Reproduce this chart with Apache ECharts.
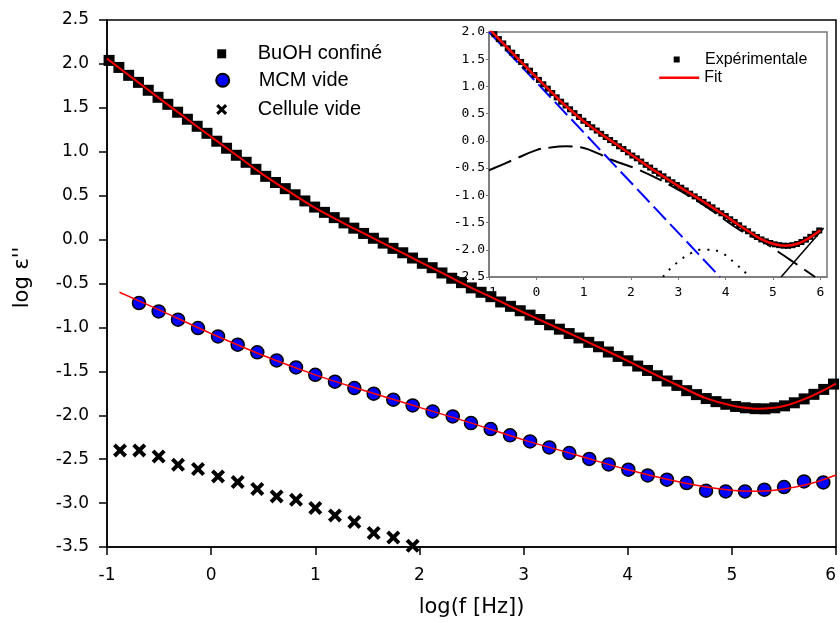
<!DOCTYPE html>
<html>
<head>
<meta charset="utf-8">
<script src="https://cdn.jsdelivr.net/npm/echarts@6/dist/echarts.min.js"></script>
<style>
html,body{margin:0;padding:0;background:#fff;}
#chart{width:840px;height:623px;}
</style>
</head>
<body>
<div id="chart"></div>
<script>
// ---------- DATA ----------
// BuOH confiné (log f, log eps'')
const buohX = [-0.98,-0.886,-0.792,-0.698,-0.604,-0.51,-0.416,-0.322,-0.228,-0.134,-0.04,0.054,0.148,0.242,0.336,0.43,0.524,0.618,0.712,0.806,0.9,0.994,1.088,1.182,1.276,1.37,1.464,1.558,1.652,1.746,1.84,1.934,2.028,2.122,2.216,2.31,2.404,2.498,2.592,2.686,2.78,2.874,2.968,3.062,3.156,3.25,3.344,3.438,3.532,3.626,3.72,3.814,3.908,4.002,4.096,4.19,4.284,4.378,4.472,4.566,4.66,4.754,4.848,4.942,5.036,5.13,5.224,5.318,5.412,5.506,5.6,5.694,5.788,5.882,5.976];
const buohY = [2.04,1.96,1.87,1.79,1.70,1.62,1.54,1.45,1.37,1.29,1.21,1.12,1.04,0.96,0.88,0.80,0.72,0.65,0.58,0.51,0.44,0.37,0.31,0.25,0.19,0.13,0.07,0.015,-0.04,-0.10,-0.15,-0.21,-0.27,-0.32,-0.38,-0.44,-0.49,-0.55,-0.60,-0.65,-0.71,-0.76,-0.81,-0.86,-0.91,-0.97,-1.02,-1.07,-1.12,-1.17,-1.22,-1.28,-1.33,-1.38,-1.44,-1.49,-1.55,-1.61,-1.66,-1.72,-1.765,-1.81,-1.845,-1.875,-1.90,-1.915,-1.925,-1.927,-1.915,-1.893,-1.858,-1.814,-1.762,-1.706,-1.645];
// Fit of BuOH
const fitBuohX = [-1,-0.75,-0.5,-0.25,0,0.25,0.5,0.75,1,1.25,1.5,1.75,2,2.25,2.5,2.75,3,3.25,3.5,3.75,4,4.25,4.5,4.75,5,5.25,5.5,5.75,6];
const fitBuohY = [2.06,1.835,1.61,1.39,1.17,0.955,0.74,0.545,0.36,0.20,0.05,-0.10,-0.25,-0.40,-0.55,-0.69,-0.83,-0.965,-1.10,-1.24,-1.38,-1.53,-1.67,-1.805,-1.89,-1.926,-1.895,-1.79,-1.64];
// MCM vide
const mcmX = [-0.693,-0.504,-0.318,-0.126,0.066,0.255,0.443,0.629,0.815,1.0,1.189,1.375,1.561,1.749,1.935,2.127,2.32,2.495,2.684,2.87,3.062,3.247,3.439,3.631,3.817,4.006,4.192,4.377,4.566,4.752,4.941,5.126,5.312,5.501,5.693,5.878];
const mcmY = [-0.722,-0.818,-0.912,-1.007,-1.102,-1.197,-1.284,-1.376,-1.455,-1.539,-1.618,-1.690,-1.755,-1.823,-1.888,-1.956,-2.013,-2.089,-2.157,-2.229,-2.298,-2.366,-2.430,-2.498,-2.560,-2.620,-2.685,-2.734,-2.772,-2.859,-2.867,-2.867,-2.848,-2.817,-2.753,-2.765];
const fitMcmX = [-0.88,-0.5,0,0.5,1,1.5,2,2.5,3,3.5,4,4.5,5,5.25,5.5,5.75,6];
const fitMcmY = [-0.60,-0.80,-1.07,-1.32,-1.54,-1.73,-1.91,-2.09,-2.28,-2.45,-2.62,-2.76,-2.855,-2.865,-2.84,-2.78,-2.68];
// Cellule vide
const cellX = [-0.875,-0.69,-0.504,-0.318,-0.126,0.066,0.255,0.443,0.629,0.815,1.0,1.189,1.375,1.561,1.749,1.935];
const cellY = [-2.40,-2.40,-2.469,-2.563,-2.612,-2.696,-2.760,-2.840,-2.924,-2.962,-3.056,-3.140,-3.216,-3.341,-3.391,-3.485];
// Inset components
const condX = [-1.0,3.88];
const condY = [2.0,-2.5];
const relaxX = [-1,-0.49,0,0.3,0.64,1.0,1.3,1.63,2.19,2.9,3.6,4.31,4.8,5.01,5.22,5.43,5.89];
const relaxY = [-0.54,-0.35,-0.17,-0.12,-0.10,-0.13,-0.23,-0.36,-0.54,-0.85,-1.215,-1.643,-1.857,-1.98,-2.10,-2.225,-2.50];
const peakX = [2.68,2.72,3.04,3.25,3.45,3.6,3.88,4.2,4.48,4.52];
const peakY = [-2.5,-2.44,-2.19,-2.07,-2.0,-2.0,-2.04,-2.25,-2.47,-2.5];
const elecX = [5.17,6.07];
const elecY = [-2.5,-1.6];
// Tick settings
const mainXTicks = {min:-1, max:6, step:1};
const mainYTicks = {min:-3.5, max:2.5, step:0.5};
const insetXTicks = {min:-1, max:6.14, step:1};
const insetYTicks = {min:-2.5, max:2.0, step:0.5};

// ---------- CHART ----------
const pairs = (xs, ys) => xs.map((x, i) => [x, ys[i]]);
const SANS = "'DejaVu Sans', sans-serif";
const ARIAL = "'Liberation Sans', Arial, sans-serif";
const MONO = "'DejaVu Sans Mono', monospace";
const crossPath = 'path://M2,0L5,3L8,0L10,2L7,5L10,8L8,10L5,7L2,10L0,8L3,5L0,2Z';
const squarePath = 'path://M0,0L10,0L10,10L0,10Z';

const chart = echarts.init(document.getElementById('chart'), null, {renderer:'canvas'});

function mainAxisCommon() {
  return {
    type:'value',
    axisLine:{show:true, onZero:false, lineStyle:{color:'#000', width:1.5}},
    axisTick:{show:true, inside:false, length:8, lineStyle:{color:'#000', width:1.5}},
    splitLine:{show:false},
    axisLabel:{color:'#000', fontSize:17, fontFamily:SANS}
  };
}
function insetAxisCommon() {
  return {
    type:'value',
    axisLine:{show:true, onZero:false, lineStyle:{color:'#777', width:1.5}},
    axisTick:{show:true, inside:false, length:3, lineStyle:{color:'#777', width:1}},
    splitLine:{show:false},
    axisLabel:{color:'#000', fontSize:13, fontFamily:MONO}
  };
}

const option = {
  animation:false,
  backgroundColor:'#fff',
  grid:[
    {left:107, right:4, top:20, bottom:76, show:true, borderColor:'#000', borderWidth:1.5,
     backgroundColor:'transparent', outerBoundsMode:'none', containLabel:false},
    {left:489, top:32, width:338, height:245, show:true, borderColor:'#777', borderWidth:1.5,
     backgroundColor:'#fff', outerBoundsMode:'none', containLabel:false}
  ],
  xAxis:[
    Object.assign(mainAxisCommon(), {
      gridIndex:0, min:mainXTicks.min, max:mainXTicks.max, interval:mainXTicks.step,
      name:'log(f [Hz])', nameLocation:'middle', nameGap:50,
      nameTextStyle:{color:'#000', fontSize:21, fontFamily:SANS},
      axisLabel:{color:'#000', fontSize:17, fontFamily:SANS, margin:20, alignMaxLabel:'right'}
    }),
    Object.assign(insetAxisCommon(), {
      gridIndex:1, min:insetXTicks.min, max:insetXTicks.max, interval:insetXTicks.step,
      axisLabel:{color:'#000', fontSize:13, fontFamily:MONO, margin:9, showMaxLabel:false}
    })
  ],
  yAxis:[
    Object.assign(mainAxisCommon(), {
      gridIndex:0, min:mainYTicks.min, max:mainYTicks.max, interval:mainYTicks.step,
      name:"log ε''", nameLocation:'middle', nameGap:74,
      nameTextStyle:{color:'#000', fontSize:21, fontFamily:SANS, padding:[0,0,0,12]},
      axisLabel:{color:'#000', fontSize:17, fontFamily:SANS, margin:18, formatter:v => v.toFixed(1)}
    }),
    Object.assign(insetAxisCommon(), {
      gridIndex:1, min:insetYTicks.min, max:insetYTicks.max, interval:insetYTicks.step,
      axisLabel:{color:'#000', fontSize:13, fontFamily:MONO, margin:4, formatter:v => v.toFixed(1)}
    })
  ],
  legend:[
    {data:['BuOH confiné'], left:217.2, top:43.8, padding:0, itemWidth:62, itemHeight:9,
     textStyle:{fontSize:20, fontFamily:ARIAL, color:'#000'}},
    {data:['MCM vide'], left:215.2, top:70.2, padding:0, itemWidth:62, itemHeight:13,
     textStyle:{fontSize:20, fontFamily:ARIAL, color:'#000'}},
    {data:['Cellule vide'], left:216.2, top:99.5, padding:0, itemWidth:62, itemHeight:11,
     textStyle:{fontSize:20, fontFamily:ARIAL, color:'#000'}},
    {data:['Expérimentale'], left:673.7, top:51.5, padding:0, itemWidth:46.6, itemHeight:6,
     textStyle:{fontSize:16, fontFamily:ARIAL, color:'#000'}},
    {data:['Fit'], left:658, top:69.7, padding:0, itemWidth:40, itemHeight:14,
     itemStyle:{opacity:0},
     lineStyle:{color:'#ff0000', width:2.5, opacity:1},
     textStyle:{fontSize:16, fontFamily:ARIAL, color:'#000'}}
  ],
  series:[
    {name:'BuOH confiné', type:'scatter', xAxisIndex:0, yAxisIndex:0, data:pairs(buohX, buohY),
     symbol:squarePath, symbolSize:11, itemStyle:{color:'#000', opacity:1}, z:2},
    {name:'fitBuOH', type:'line', xAxisIndex:0, yAxisIndex:0, data:pairs(fitBuohX, fitBuohY),
     smooth:0.4, symbol:'none', lineStyle:{color:'#ff0000', width:2}, z:4},
    {name:'MCM vide', type:'scatter', xAxisIndex:0, yAxisIndex:0, data:pairs(mcmX, mcmY),
     symbol:'circle', symbolSize:13, itemStyle:{color:'#0000ff', borderColor:'#000', borderWidth:1.5, opacity:1}, z:2},
    {name:'fitMCM', type:'line', xAxisIndex:0, yAxisIndex:0, data:pairs(fitMcmX, fitMcmY),
     smooth:0.4, symbol:'none', lineStyle:{color:'#ff0000', width:1.5}, z:4},
    {name:'Cellule vide', type:'scatter', xAxisIndex:0, yAxisIndex:0, data:pairs(cellX, cellY),
     symbol:crossPath, symbolSize:14, itemStyle:{color:'#000', opacity:1}, z:2},

    {name:'Expérimentale', type:'scatter', xAxisIndex:1, yAxisIndex:1, data:pairs(buohX, buohY),
     symbol:squarePath, symbolSize:6, itemStyle:{color:'#000', opacity:1}, clip:true, z:3},
    {name:'conduction', type:'line', xAxisIndex:1, yAxisIndex:1, data:pairs(condX, condY),
     symbol:'none', clip:true, lineStyle:{color:'#0000ff', width:2, type:[18,6]}, z:3},
    {name:'relaxation', type:'line', xAxisIndex:1, yAxisIndex:1, data:pairs(relaxX, relaxY),
     smooth:0.4, symbol:'none', clip:true, lineStyle:{color:'#000', width:2, type:[24,8]}, z:3},
    {name:'peak', type:'line', xAxisIndex:1, yAxisIndex:1, data:pairs(peakX, peakY),
     smooth:0.4, symbol:'none', clip:true, lineStyle:{color:'#000', width:2, type:[2,7]}, z:3},
    {name:'electrode', type:'line', xAxisIndex:1, yAxisIndex:1, data:pairs(elecX, elecY),
     symbol:'none', clip:true, lineStyle:{color:'#000', width:1.5}, z:3},
    {name:'Fit', type:'line', xAxisIndex:1, yAxisIndex:1, data:pairs(fitBuohX, fitBuohY),
     smooth:0.4, symbol:'none', clip:true, itemStyle:{color:'#ff0000'}, lineStyle:{color:'#ff0000', width:2.5}, z:4}
  ]
};
chart.setOption(option);
</script>
</body>
</html>
